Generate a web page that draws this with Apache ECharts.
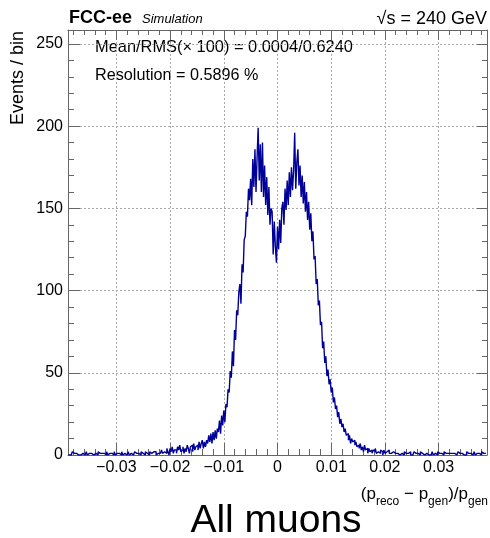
<!DOCTYPE html>
<html>
<head>
<meta charset="utf-8">
<script src="https://cdn.jsdelivr.net/npm/echarts@6/dist/echarts.min.js"></script>
<style>
html,body{margin:0;padding:0;background:#fff;}
#chart{width:490px;height:538px;}
</style>
</head>
<body>
<div id="chart"></div>
<script>
// Histogram binning (x axis)
const binLow = -0.039;
const binWidth = 0.0002;
// Events per bin, 390 bins from -0.039 to 0.039
const counts = [
  0,1,0,0,2,1,0,1,0,0,
  1,0,0,1,1,0,0,2,0,1,
  0,1,1,0,0,1,0,0,2,1,
  0,1,0,1,1,0,2,0,1,0,
  1,1,0,2,0,1,0,1,1,0,
  2,0,1,1,0,1,2,0,1,1,
  0,1,2,1,0,1,1,0,2,1,
  1,0,2,1,1,0,2,1,1,2,
  1,2,0,1,2,1,1,3,1,2,
  2,1,4,2,0,4,2,5,1,3,
  3,1,5,3,6,2,3,5,1,4,
  2,6,4,1,5,6,2,7,3,5,
  6,3,8,4,7,9,4,8,5,9,
  7,12,8,13,7,14,9,15,10,16,
  14,21,13,24,18,27,20,31,29,40,
  38,51,47,63,54,76,70,88,85,99,
  104,92,116,111,131,133,148,145,162,155,
  168,152,180,163,186,160,181,199,167,189,
  160,190,157,176,152,169,146,163,140,150,
  148,122,142,127,117,139,125,143,129,150,
  154,140,162,149,167,152,172,157,175,161,
  173,196,162,178,186,164,176,157,170,153,
  166,148,160,143,154,137,147,130,136,119,
  121,104,107,91,94,79,81,65,69,56,
  60,48,52,43,46,38,41,32,35,28,
  30,23,26,19,22,17,19,14,16,12,
  13,9,12,7,10,8,9,6,8,5,
  6,4,7,3,5,2,6,3,4,1,
  4,2,3,1,3,2,4,1,2,3,
  1,3,2,0,3,1,2,1,3,1,
  1,0,2,1,1,0,1,2,0,1,
  1,1,0,2,1,0,1,1,2,0,
  0,1,2,1,0,1,1,0,2,1,
  1,0,1,1,2,0,1,0,1,2,
  0,1,1,0,2,1,0,1,1,0,
  2,1,0,1,0,1,2,1,0,1,
  1,0,1,2,1,0,1,1,0,1,
  0,2,1,0,1,1,0,1,2,0,
  1,0,1,1,0,2,1,0,1,1
];
// Axis ranges and ticks
const xMin = -0.039, xMax = 0.039, xStep = 0.01;
const yMin = 0, yMax = 258.5, yStep = 50;
// Texts
const xTitleParts = ['(p', 'reco', ' − p', 'gen', ')/p', 'gen'];
const yTitle = 'Events / bin';
const statLine1 = 'Mean/RMS(× 100) = 0.0004/0.6240';
const statLine2 = 'Resolution = 0.5896 %';
const caption = 'All muons';

const points = counts.map((c, i) => [binLow + binWidth * (i + 0.5), c]);

const FONT = '"Liberation Sans", Arial, Helvetica, sans-serif';
const isEdge = (v, lo, hi) => Math.abs(v - lo) < 1e-9 || Math.abs(v - hi) < 1e-9;
const fmtX = v => {
  if (isEdge(v, xMin, xMax)) return '';
  const r = Math.round(v * 100) / 100;
  if (r === 0) return '0';
  return (r < 0 ? '−' : '') + Math.abs(r).toString();
};
const fmtY = v => (v !== 0 && isEdge(v, yMin, yMax)) ? '' : String(Math.round(v));

const frameLine = {show: true, onZero: false, lineStyle: {color: '#666', width: 1}};
const gridLine = {show: true, lineStyle: {color: '#aaa', width: 1, type: [2, 2]}};
const xAxisCommon = {type: 'value', min: xMin, max: xMax, splitNumber: 8, minInterval: xStep, maxInterval: xStep};

const chart = echarts.init(document.getElementById('chart'), null, {renderer: 'canvas'});
chart.setOption({
  animation: false,
  backgroundColor: '#fff',
  grid: {left: 68, right: 2, top: 30, bottom: 83, containLabel: false},
  xAxis: [
    Object.assign({}, xAxisCommon, {
      position: 'bottom',
      axisLine: frameLine,
      axisTick: {show: true, inside: true, length: 12, lineStyle: {color: '#666'}},
      minorTick: {show: true, splitNumber: 5, length: 6, lineStyle: {color: '#666'}},
      axisLabel: {show: true, formatter: fmtX, fontSize: 16, color: '#000', fontFamily: FONT, margin: 5},
      splitLine: gridLine
    }),
    Object.assign({}, xAxisCommon, {
      position: 'top',
      axisLine: frameLine,
      axisTick: {show: true, inside: true, length: 10, lineStyle: {color: '#666'}},
      minorTick: {show: true, splitNumber: 5, length: 5, lineStyle: {color: '#666'}},
      axisLabel: {show: false},
      splitLine: {show: false}
    })
  ],
  yAxis: [
    {
      type: 'value', position: 'left', min: yMin, max: yMax, interval: yStep,
      axisLine: frameLine,
      axisTick: {show: true, inside: true, length: 12, lineStyle: {color: '#666'}},
      minorTick: {show: true, splitNumber: 5, length: 6, lineStyle: {color: '#666'}},
      axisLabel: {show: true, formatter: fmtY, fontSize: 16, color: '#000', fontFamily: FONT, margin: 5, showMaxLabel: false},
      splitLine: gridLine
    },
    {
      type: 'value', position: 'right', min: yMin, max: yMax, interval: yStep,
      axisLine: frameLine,
      axisTick: {show: true, inside: true, length: 10, lineStyle: {color: '#666'}},
      minorTick: {show: true, splitNumber: 5, length: 5, lineStyle: {color: '#666'}},
      axisLabel: {show: false},
      splitLine: {show: false}
    }
  ],
  series: [{
    type: 'line',
    xAxisIndex: 0, yAxisIndex: 0,
    data: points,
    step: 'middle',
    showSymbol: false,
    symbol: 'none',
    clip: true,
    lineStyle: {color: '#000099', width: 1.4},
    z: 5
  }],
  graphic: [
    {type: 'text', x: 69, y: 17.6, style: {text: 'FCC-ee', font: 'bold 18px ' + FONT, fill: '#000', textAlign: 'left', textVerticalAlign: 'middle'}},
    {type: 'text', x: 142, y: 19.5, style: {text: 'Simulation', font: 'italic 13px ' + FONT, fill: '#000', textAlign: 'left', textVerticalAlign: 'middle'}},
    {type: 'text', x: 487, y: 18.6, style: {text: '√s = 240 GeV', font: '18px ' + FONT, fill: '#000', textAlign: 'right', textVerticalAlign: 'middle'}},
    {type: 'text', x: 95, y: 47, style: {text: statLine1, font: '16.4px ' + FONT, fill: '#000', textAlign: 'left', textVerticalAlign: 'middle'}},
    {type: 'text', x: 95, y: 75.5, style: {text: statLine2, font: '16.2px ' + FONT, fill: '#000', textAlign: 'left', textVerticalAlign: 'middle'}},
    {type: 'text', x: 18.5, y: 31, rotation: Math.PI / 2, style: {text: yTitle, font: '18px ' + FONT, fill: '#000', textAlign: 'right', textVerticalAlign: 'middle'}},
    {type: 'text', x: 488, y: 480, style: {
      text: '{m|' + xTitleParts[0] + '}{s|' + xTitleParts[1] + '}{m|' + xTitleParts[2] + '}{s|' + xTitleParts[3] + '}{m|' + xTitleParts[4] + '}{s|' + xTitleParts[5] + '}',
      textAlign: 'right', textVerticalAlign: 'top',
      rich: {
        m: {fontSize: 17, fontFamily: FONT, color: '#000', lineHeight: 28, verticalAlign: 'middle'},
        s: {fontSize: 12, fontFamily: FONT, color: '#000', lineHeight: 28, verticalAlign: 'bottom'}
      }
    }},
    {type: 'text', x: 276, y: 521, style: {text: caption, font: '39px ' + FONT, fill: '#000', textAlign: 'center', textVerticalAlign: 'middle'}}
  ]
});
</script>
</body>
</html>
